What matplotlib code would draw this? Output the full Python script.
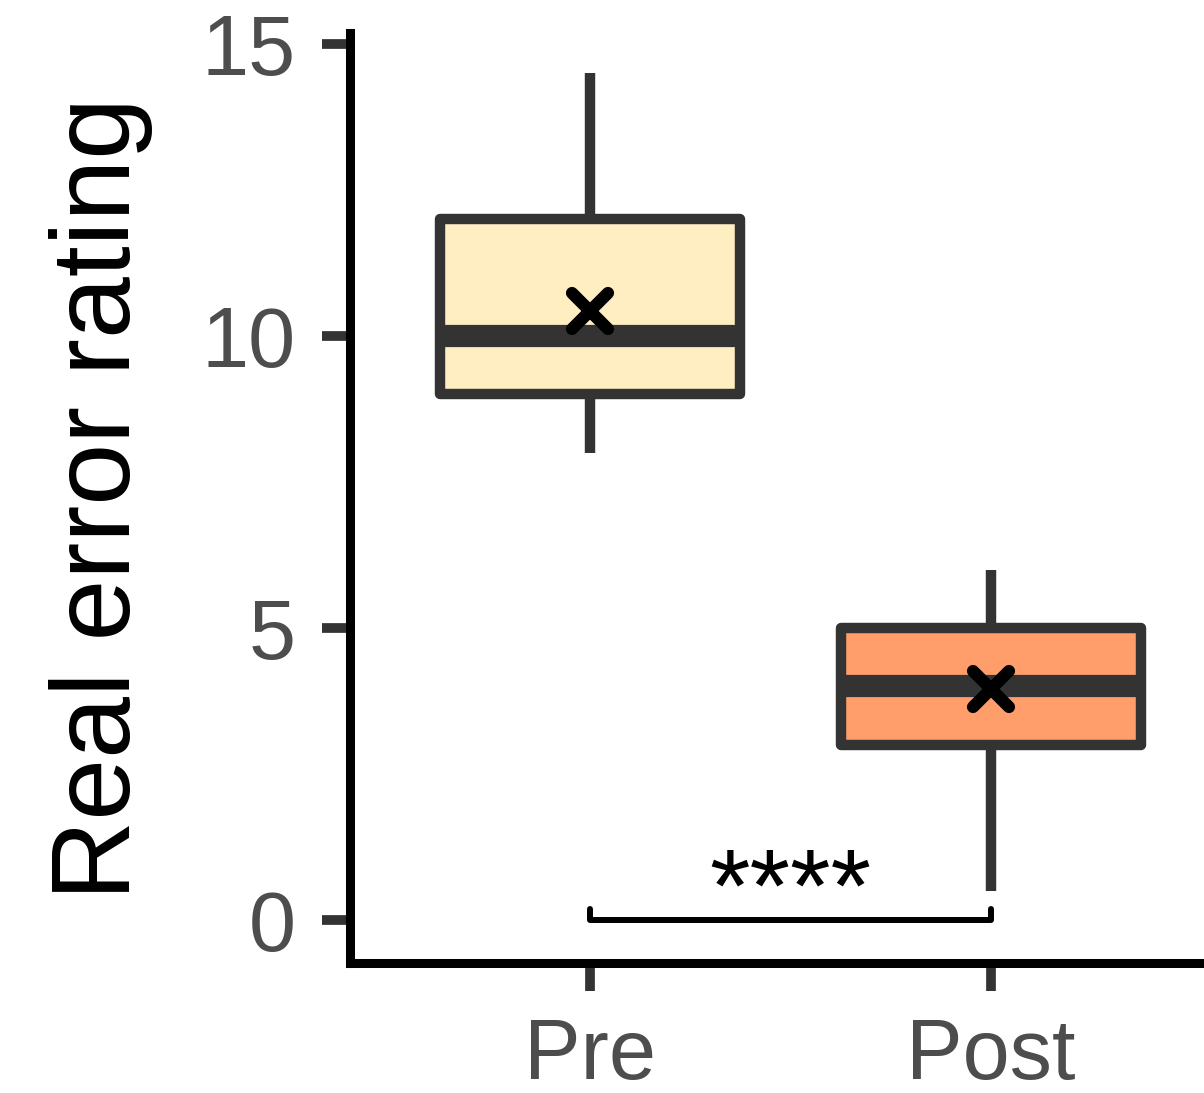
import matplotlib
matplotlib.use('Agg')
from matplotlib import pyplot as plt
from matplotlib.markers import MarkerStyle

plt.rcParams['font.family'] = ['Liberation Sans', 'DejaVu Sans']

groups = ['Pre', 'Post']
whisk_lo = [8.0, 0.5]
q1 = [9.0, 3.0]
medians = [10.0, 4.0]
q3 = [12.0, 5.0]
whisk_hi = [14.5, 6.0]
means = [10.43, 3.96]
fills = ['#FFEEC2', '#FF9E6B']
sig_label = '****'

stats = []
for i, g in enumerate(groups):
    stats.append({'label': g, 'whislo': whisk_lo[i], 'q1': q1[i], 'med': medians[i],
                  'q3': q3[i], 'whishi': whisk_hi[i], 'fliers': []})

dark = '#333333'
fig = plt.figure(figsize=(12.04, 10.93), dpi=100)
ax = fig.add_axes([350/1204, 1 - 963/1093, (1231 - 350)/1204, (963 - 33)/1093])

pos = [1, 2]
bp = ax.bxp(stats, positions=pos, widths=0.75, patch_artist=True, showcaps=False,
            boxprops=dict(edgecolor=dark, linewidth=7.5, joinstyle='round'),
            whiskerprops=dict(color=dark, linewidth=7.5, solid_capstyle='butt'),
            medianprops=dict(color=dark, linewidth=16, solid_capstyle='butt'),
            zorder=2)
for patch, c in zip(bp['boxes'], fills):
    patch.set_facecolor(c)

ax.plot(pos, means, linestyle='none', color='black',
        marker=MarkerStyle('x', capstyle='round'), markersize=26, markeredgewidth=8.8, zorder=4)

# significance bracket
ax.plot([pos[0], pos[0], pos[1], pos[1]], [0.19, 0, 0, 0.19], color='black', lw=4.3,
        solid_capstyle='round', solid_joinstyle='round', zorder=3)
ax.text(sum(pos)/2, -0.02, sig_label, ha='center', va='baseline', fontsize=75, color='black')

ax.set_xlim(0.4, 2.6)
ax.set_ylim(-0.736, 15.19)
ax.set_yticks([0, 5, 10, 15])
ax.set_xticks(pos)
ax.set_xticklabels(groups)

for s in ['top', 'right']:
    ax.spines[s].set_visible(False)
for s in ['left', 'bottom']:
    ax.spines[s].set_linewidth(6.5)
    ax.spines[s].set_color('black')

ax.tick_params(axis='both', length=20, width=7, color=dark, labelcolor='#4D4D4D', labelsize=61)
ax.tick_params(axis='y', pad=19)
ax.tick_params(axis='x', pad=19)
ax.set_ylabel('Real error rating', fontsize=80, color='black', labelpad=35)

plt.savefig('out.png', dpi=100)
